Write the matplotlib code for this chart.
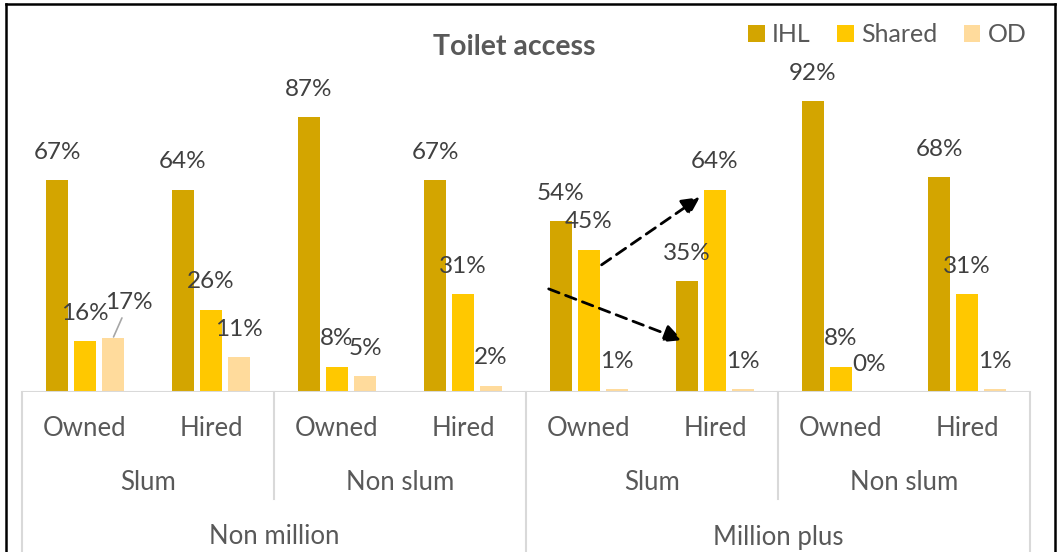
import numpy as np
import matplotlib.pyplot as plt
from matplotlib.lines import Line2D

plt.rc('font', family='Lato')

# toilet access shares (%) per tenure, settlement type and city class
categories = ['Owned', 'Hired', 'Owned', 'Hired', 'Owned', 'Hired', 'Owned', 'Hired']
slum_groups = ['Slum', 'Non slum', 'Slum', 'Non slum']
city_groups = ['Non million', 'Million plus']
ihl = [67, 64, 87, 67, 54, 35, 92, 68]
shared = [16, 26, 8, 31, 45, 64, 8, 31]
od = [17, 11, 5, 2, 1, 1, 0, 1]

series = [('IHL', ihl, '#D3A500'), ('Shared', shared, '#FFC800'), ('OD', od, '#FFDB9C')]

W, H = 1058, 552
fig = plt.figure(figsize=(W / 100, H / 100), dpi=100)
ax = fig.add_axes([22 / W, 160 / H, 1008 / W, 372 / H])

x = np.arange(len(categories))
width = 0.175
step = 0.222
label_color = '#404040'
text_color = '#595959'
grid_color = '#D9D9D9'

for i, (name, vals, col) in enumerate(series):
    pos = x + (i - 1) * step
    ax.bar(pos, vals, width, color=col, label=name, zorder=2)
    for j, (px, v) in enumerate(zip(pos, vals)):
        if name == 'OD' and j == 0:
            # label pushed up-right with a leader line
            ax.annotate('%d%%' % v, xy=(px, v), xytext=(11.5, 26), textcoords='offset points',
                        ha='center', va='center', fontsize=17.5, color=label_color,
                        arrowprops=dict(arrowstyle='-', color='#A6A6A6', lw=1.2,
                                        shrinkA=2, shrinkB=1))
        else:
            ax.annotate('%d%%' % v, xy=(px, v), xytext=(0, 20), textcoords='offset points',
                        ha='center', va='center', fontsize=17.5, color=label_color)

# dashed arrows between owned and hired in million plus slum
arrow_kw = dict(arrowstyle='-|>', color='black', lw=2.0, linestyle=(0, (4, 2.5)),
                mutation_scale=27, shrinkA=0, shrinkB=0)
ax.annotate('', xy=(4.88, 61.6), xytext=(4.10, 40.2), arrowprops=arrow_kw)
ax.annotate('', xy=(4.74, 16.4), xytext=(3.68, 32.6), arrowprops=arrow_kw)

ax.set_xlim(-0.5, len(categories) - 0.5)
ax.set_ylim(0, 117.6)
for s in ax.spines.values():
    s.set_visible(False)
ax.set_xticks([])
ax.set_yticks([])
ax.axhline(0, color=grid_color, lw=1.5, zorder=3)

# multi-level category axis drawn as a table under the bars
def ypix(py):
    return (392 - py) / 372.0

tr = ax.get_xaxis_transform()
for xv, bottom in [(-0.5, 552), (1.5, 499), (3.5, 552), (5.5, 499), (7.5, 552)]:
    ax.plot([xv, xv], [0, ypix(bottom)], color=grid_color, lw=1.5, transform=tr, clip_on=False)

for xi, c in zip(x, categories):
    ax.text(xi, ypix(429), c, transform=tr, ha='center', va='center', fontsize=18.5, color=text_color)
for k, g in enumerate(slum_groups):
    ax.text(2 * k + 0.5, ypix(483), g, transform=tr, ha='center', va='center', fontsize=18.5, color=text_color)
for k, g in enumerate(city_groups):
    ax.text(4 * k + 1.5, ypix(537), g, transform=tr, ha='center', va='center', fontsize=18.5, color=text_color)

fig.text(514 / W, 1 - 47 / H, 'Toilet access', ha='center', va='center', fontsize=20.5,
         fontweight='bold', color=text_color)

ax.legend(loc='center left', bbox_to_anchor=(748 / W, 1 - 35 / H), bbox_transform=fig.transFigure,
          ncol=3, frameon=False, fontsize=18, handlelength=0.66, handleheight=0.66,
          handletextpad=0.3, columnspacing=1.05, borderpad=0, borderaxespad=0, labelcolor=text_color)

# outer frame
frame_kw = dict(color='black', lw=1.8, transform=fig.transFigure)
fig.add_artist(Line2D([6 / W, 6 / W], [0, 1 - 4 / H], **frame_kw))
fig.add_artist(Line2D([6 / W, 1055 / W], [1 - 4 / H, 1 - 4 / H], **frame_kw))
fig.add_artist(Line2D([1055 / W, 1055 / W], [0, 1 - 4 / H], **frame_kw))

fig.savefig('out.png', dpi=100)
